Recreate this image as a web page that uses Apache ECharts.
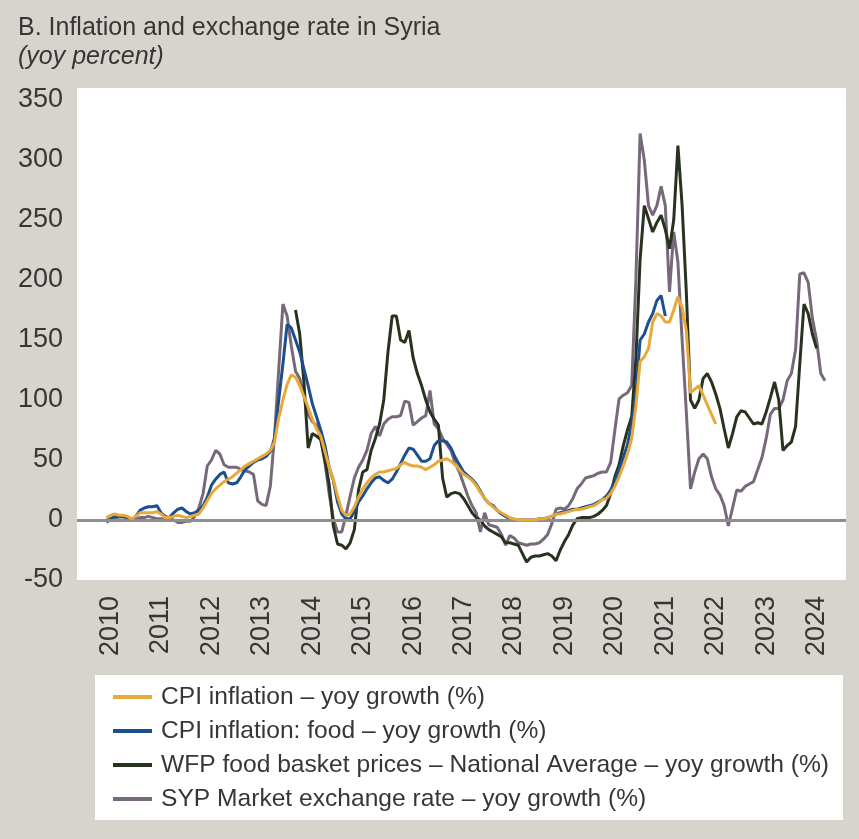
<!DOCTYPE html>
<html><head><meta charset="utf-8">
<script src="https://cdn.jsdelivr.net/npm/echarts@6/dist/echarts.min.js"></script>
<style>html,body{margin:0;padding:0;background:#d6d4cd}#c{width:859px;height:839px}</style>
</head><body><div id="c"></div>
<script>
// ---- data ----
const firstMonth = '2009-05';
const lastMonth = '2024-08';
const yTicks = [-50, 0, 50, 100, 150, 200, 250, 300, 350];

const seriesNames = [
  'CPI inflation – yoy growth (%)',
  'CPI inflation: food – yoy growth (%)',
  'WFP food basket prices – National Average – yoy growth (%)',
  'SYP Market exchange rate – yoy growth (%)'
];

const cpiStart = '2009-12';
const cpi = [2,4,5,4,4,3,1,3,6,6,
  6,6,7,5,2,2,3,4,3,2,
  3,4,5,10,16,22,26,29,32,34,
  36,39,42,45,47,49,51,53,55,58,
  65,85,100,113,121,119,112,103,94,84,
  76,70,57,44,34,20,8,4,5,11,
  19,26,31,35,38,40,40,41,42,43,
  46,48,46,45,45,44,42,44,46,49,
  50,51,49,46,42,38,36,33,29,23,
  18,14,11,8,6,4,2,1,0,0,
  0,0,0,1,1,2,3,5,5,6,
  7,8,9,9,10,11,12,14,17,18,
  22,28,36,45,55,68,95,132,136,143,
  165,172,170,165,165,175,186,177,158,106,
  109,112,104,96,88,80];

const foodStart = '2009-12';
const food = [-2,1,3,3,3,2,0,3,8,10,
  11,11,12,6,3,2,6,9,10,7,
  5,6,8,12,19,29,34,38,40,31,
  30,31,36,42,45,48,50,51,53,57,
  68,100,130,163,160,150,140,126,112,97,
  86,75,62,44,33,15,5,1,1,7,
  15,20,26,31,35,36,33,31,34,40,
  47,54,60,59,54,49,49,51,62,66,
  66,65,60,52,46,40,37,34,30,24,
  18,14,12,8,5,3,1,0,0,0,
  0,0,0,1,1,2,3,5,6,7,
  8,9,9,10,11,12,13,15,17,20,
  25,32,42,52,63,80,105,150,155,165,
  172,183,187,170];

const wfpStart = '2013-09';
const wfp = [175,155,115,60,72,70,67,50,30,-5,
  -20,-21,-24,-19,-8,25,40,42,58,68,
  80,100,140,170,170,150,148,158,135,122,
  112,100,90,84,79,35,19,22,23,22,
  18,12,6,2,0,-5,-8,-10,-12,-14,
  -19,-19,-20,-21,-28,-35,-31,-30,-30,-29,
  -28,-30,-34,-25,-18,-12,-4,1,2,2,
  2,3,5,8,12,22,36,46,62,75,
  86,134,217,262,251,240,248,254,242,226,
  250,312,262,190,100,93,100,118,122,115,
  105,93,76,60,72,86,91,90,85,80,
  81,80,90,102,115,100,58,62,65,78,
  130,180,172,155,143];

const sypStart = '2009-12';
const syp = [0,1,1,0,0,1,0,1,2,2,
  3,2,1,1,0,1,0,-2,-2,-1,
  -1,3,10,22,45,50,58,55,46,44,
  44,44,42,41,40,38,16,13,12,28,
  70,125,180,170,145,124,118,104,88,82,
  79,68,48,22,1,-10,-10,4,20,35,
  44,50,58,72,78,70,80,84,86,86,
  87,99,98,79,82,85,87,108,80,76,
  68,63,58,47,40,30,20,12,6,-10,
  6,-4,-5,-6,-12,-21,-13,-15,-19,-20,
  -21,-20,-20,-19,-16,-12,-3,9,10,9,
  12,18,26,30,35,36,37,39,40,40,
  48,75,101,104,106,112,200,322,300,262,
  254,262,278,262,190,240,215,150,90,26,
  40,51,55,51,36,26,21,12,-5,10,
  25,24,28,30,32,42,52,68,88,93,
  93,100,116,122,142,205,206,198,168,150,
  122,116];

const colors = ['#e8a93b', '#1d4f8f', '#28331f', '#77697b'];

// ---- build ----
function buildMonths(a, b) {
  let [y, m] = a.split('-').map(Number);
  const [ye, me] = b.split('-').map(Number);
  const out = [];
  while (y < ye || (y === ye && m <= me)) {
    out.push(y + '-' + String(m).padStart(2, '0'));
    m++; if (m > 12) { m = 1; y++; }
  }
  return out;
}
const months = buildMonths(firstMonth, lastMonth);
function align(start, vals) {
  const i = months.indexOf(start);
  const arr = new Array(months.length).fill(null);
  vals.forEach((v, k) => { arr[i + k] = v; });
  return arr;
}

const FONT = '"Liberation Sans", Arial, sans-serif';
const TXT = '#363636';

const chart = echarts.init(document.getElementById('c'), null, {renderer: 'canvas'});
function line(name, data, color, z, extra) {
  return Object.assign({
    name, type: 'line', data, z,
    showSymbol: false, symbol: 'none', connectNulls: false,
    lineStyle: {color, width: 3}, itemStyle: {color},
    emphasis: {disabled: true}
  }, extra || {});
}
chart.setOption({
  animation: false,
  backgroundColor: '#d6d4cd',
  graphic: [
    {type: 'text', left: 18, top: 16, style: {text: 'B. Inflation and exchange rate in Syria', fontSize: 25, fontFamily: FONT, fill: TXT}},
    {type: 'text', left: 18, top: 45, style: {text: '(yoy percent)', fontSize: 25, fontStyle: 'italic', fontFamily: FONT, fill: TXT}},
    {type: 'rect', shape: {x: 95, y: 675, width: 748, height: 145}, style: {fill: '#ffffff'}, z: 1}
  ],
  grid: {left: 77, right: 13, top: 88, bottom: 259, show: true, backgroundColor: '#ffffff', borderWidth: 0},
  xAxis: {
    type: 'category', data: months, boundaryGap: false,
    axisLine: {show: false}, axisTick: {show: false}, splitLine: {show: false},
    axisLabel: {
      interval: (i, v) => v.slice(5) === '01',
      formatter: v => v.slice(0, 4),
      rotate: 90, margin: 16, fontSize: 27, fontFamily: FONT, color: TXT
    }
  },
  yAxis: {
    type: 'value', min: yTicks[0], max: 360, interval: 50,
    axisLine: {show: false}, axisTick: {show: false}, splitLine: {show: false},
    axisLabel: {margin: 14, fontSize: 27, fontFamily: FONT, color: TXT, showMaxLabel: false}
  },
  legend: {
    orient: 'vertical', left: 113, top: 682, padding: 0, itemWidth: 39, itemHeight: 4, itemGap: 4,
    icon: 'rect', z: 5,
    data: seriesNames,
    textStyle: {fontSize: 24.6, fontFamily: FONT, color: TXT, lineHeight: 30, padding: [0, 0, 0, 4]}
  },
  series: [
    line(seriesNames[3], align(sypStart, syp), colors[3], 2, {
      markLine: {silent: true, symbol: ['none', 'none'], label: {show: false},
        lineStyle: {color: '#8e8e8e', width: 3, type: 'solid'}, data: [{yAxis: 0}]}
    }),
    line(seriesNames[2], align(wfpStart, wfp), colors[2], 3),
    line(seriesNames[1], align(foodStart, food), colors[1], 4),
    line(seriesNames[0], align(cpiStart, cpi), colors[0], 5)
  ]
});
</script></body></html>
